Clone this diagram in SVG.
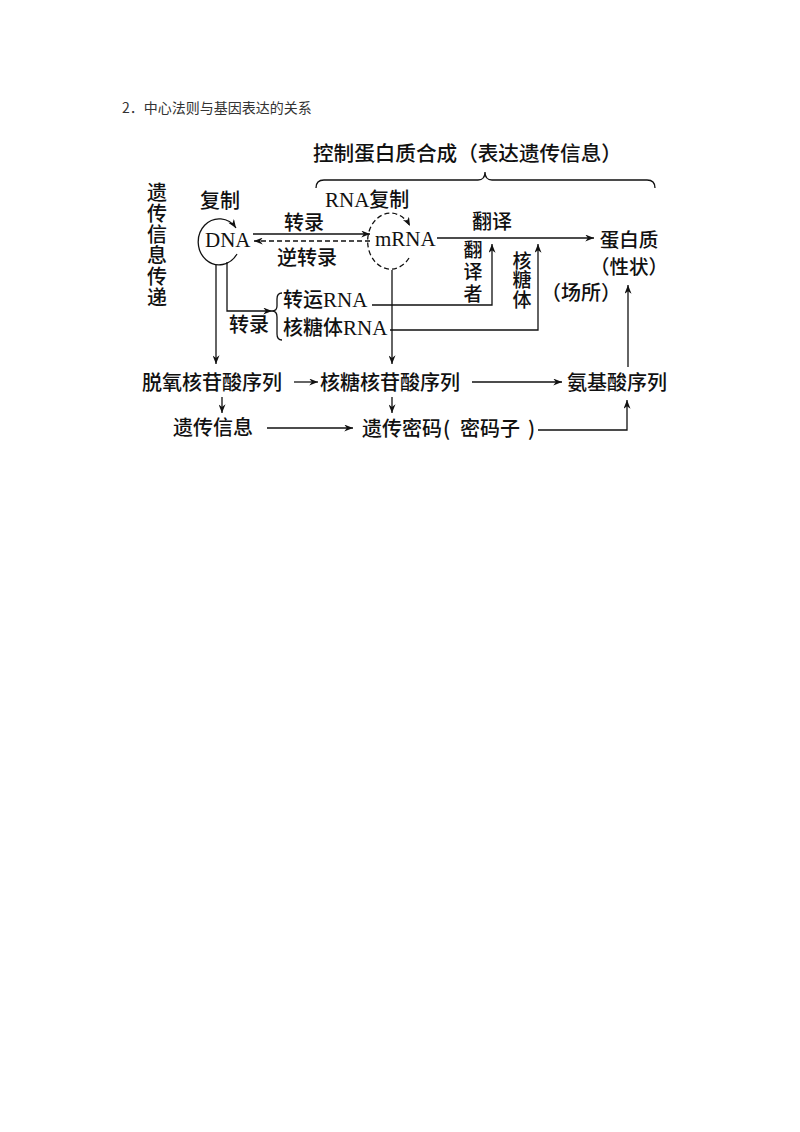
<svg xmlns="http://www.w3.org/2000/svg" width="800" height="1132" viewBox="0 0 800 1132">
<defs>
<style>
.cjk{font-family:"Noto Sans CJK SC","Noto Sans",sans-serif;font-size:20px;fill:#111;font-weight:500}
.ser{font-family:"Liberation Serif",serif;font-size:21px;fill:#111}
.vert{writing-mode:vertical-rl;text-orientation:upright}
.ln{fill:none;stroke:#111;stroke-width:1.3}
.dash{stroke-dasharray:5,3}
.mid{text-anchor:middle}
</style>
<marker id="ah" viewBox="0 0 10 8" refX="10" refY="4" markerWidth="9" markerHeight="7" orient="auto" markerUnits="userSpaceOnUse">
<path d="M0,0 L10,4 L0,8 L3,4 z" fill="#111"/>
</marker>
</defs>
<rect width="800" height="1132" fill="#fff"/>
<text id="title" x="122" y="113" style="font-family:'Noto Sans CJK SC','Noto Sans',sans-serif;font-size:14px;fill:#333">2．中心法则与基因表达的关系</text>

<g id="header">
<text class="cjk" x="313" y="161" style="font-size:20.6px">控制蛋白质合成（表达遗传信息）</text>
<path class="ln" d="M316,188 Q316,180 324,180 L478,180 Q485,180 485,172 Q485,180 492,180 L647,180 Q655,180 655,188"/>
</g>

<g id="side-label">
<text class="cjk vert" x="157" y="182" style="letter-spacing:1px">遗传信息传递</text>
</g>

<g id="dna">
<text class="cjk mid" x="220" y="208">复制</text>
<path class="ln" d="M237,254 A21,23 0 1,1 236,228" marker-end="url(#ah)"/>
<text class="ser" x="205" y="247">DNA</text>
</g>

<g id="mrna">
<text x="325" y="207"><tspan class="ser">RNA</tspan><tspan class="cjk">复制</tspan></text>
<path class="ln dash" d="M409,258 A23,28 0 1,1 410,226" marker-end="url(#ah)"/>
<text class="ser" x="375" y="246">mRNA</text>
</g>

<g id="protein">
<text class="cjk mid" x="629" y="247" style="font-size:19.5px">蛋白质</text>
<text class="cjk mid" x="629" y="274" style="font-size:19.5px">（性状）</text>
</g>

<g id="trna">
<text x="283" y="307"><tspan class="cjk">转运</tspan><tspan class="ser">RNA</tspan></text>
</g>
<g id="rrna">
<text x="283" y="335"><tspan class="cjk">核糖体</tspan><tspan class="ser">RNA</tspan></text>
</g>

<g id="labels">
<text class="cjk mid" x="304" y="230">转录</text>
<text class="cjk mid" x="307" y="265">逆转录</text>
<text class="cjk mid" x="492" y="229">翻译</text>
<text class="cjk mid" x="249" y="332">转录</text>
<text class="cjk vert" x="473" y="240" style="font-size:19px;letter-spacing:3px">翻译者</text>
<text class="cjk vert" x="522" y="251" style="font-size:19px;letter-spacing:0.5px">核糖体</text>
<text class="cjk mid" x="581" y="300">（场所）</text>
</g>

<g id="row1">
<text id="dnaseq" class="cjk" x="142" y="390">脱氧核苷酸序列</text>
<text id="rnaseq" class="cjk" x="320" y="390">核糖核苷酸序列</text>
<text id="aaseq" class="cjk" x="567" y="390">氨基酸序列</text>
</g>
<g id="row2">
<text id="info" class="cjk" x="173" y="435">遗传信息</text>
<text id="code" class="cjk" y="436"><tspan x="362">遗传密码</tspan><tspan x="443">(</tspan><tspan x="460">密码子</tspan><tspan x="528">)</tspan></text>
</g>

<g id="connectors">
<path class="ln" d="M253,234 L370,234" marker-end="url(#ah)"/>
<path class="ln dash" d="M370,241 L254,241" marker-end="url(#ah)"/>
<path class="ln" d="M437,238 L594,238" marker-end="url(#ah)"/>
<path class="ln" d="M372,305 L492,305 L492,244" marker-end="url(#ah)"/>
<path class="ln" d="M390,330 L538,330 L538,244" marker-end="url(#ah)"/>
<path class="ln" d="M216,265 L216,364" marker-end="url(#ah)"/>
<path class="ln" d="M227,262 L227,311 L272,311" marker-end="url(#ah)"/>
<path class="ln" d="M282,293 Q277,293 277,299 L277,306 Q277,311 272,311 Q277,311 277,317 L277,334 Q277,340 282,340"/>
<path class="ln" d="M392,270 L392,364" marker-end="url(#ah)"/>
<path class="ln" d="M628,367 L628,285" marker-end="url(#ah)"/>
<path class="ln" d="M294,382 L318,382" marker-end="url(#ah)"/>
<path class="ln" d="M472,382 L562,382" marker-end="url(#ah)"/>
<path class="ln" d="M222,397 L222,413" marker-end="url(#ah)"/>
<path class="ln" d="M267,428 L353,428" marker-end="url(#ah)"/>
<path class="ln" d="M392,397 L392,413" marker-end="url(#ah)"/>
<path class="ln" d="M538,430 L627,430 L627,400" marker-end="url(#ah)"/>
</g>
</svg>
